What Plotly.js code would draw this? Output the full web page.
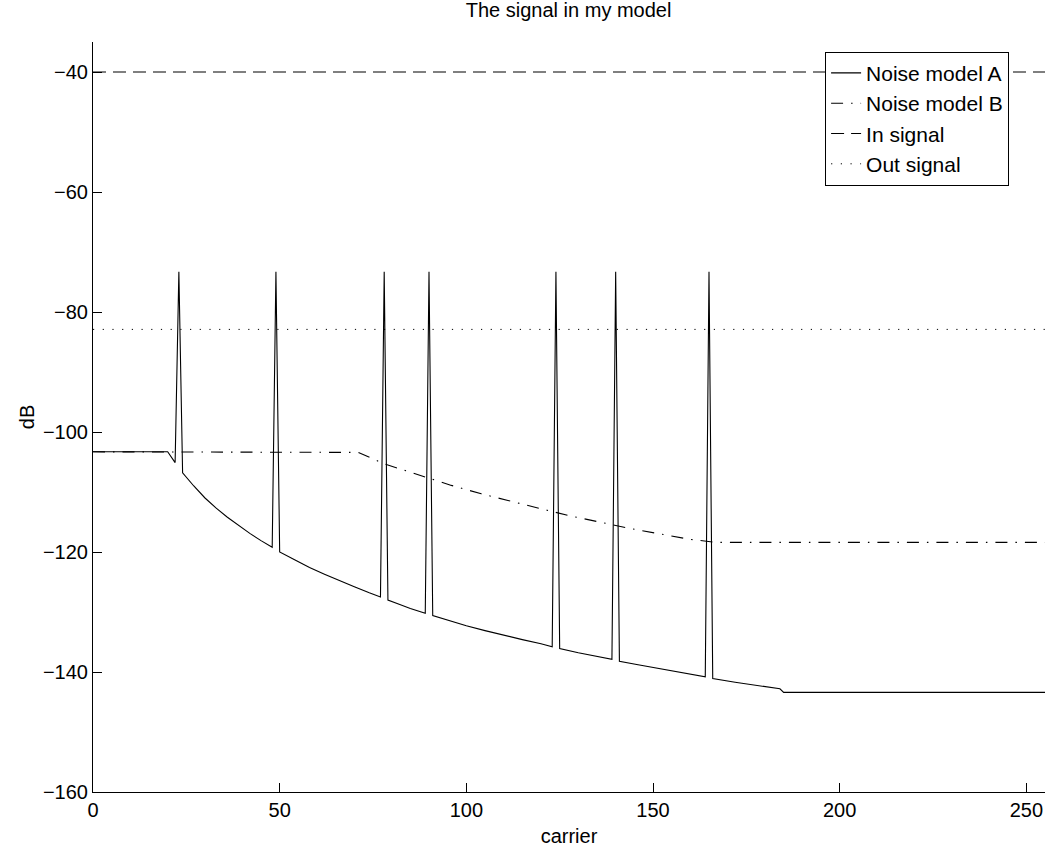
<!DOCTYPE html>
<html>
<head>
<meta charset="utf-8">
<script src="https://cdn.plot.ly/plotly-3.0.1.min.js"></script>
<style>html,body{margin:0;padding:0;background:#fff;}#chart{width:1046px;height:848px;}</style>
</head>
<body>
<div id="chart"></div>
<script>
// Noise model A (solid) – carrier index and dB values
var carrierA = [0, 20, 22, 23, 24, 27, 30, 33, 36, 39, 42, 45, 48, 49, 50, 54, 58, 62, 66, 70, 74, 77, 78, 79, 82, 85, 89, 90, 91, 95, 100, 105, 110, 115, 120, 123, 124, 125, 130, 135, 139, 140, 141, 146, 152, 158, 164, 165, 166, 172, 178, 184, 185, 255];
var noiseA = [-103.3, -103.3, -105.1, -73.3, -106.8, -109.0, -111.0, -112.7, -114.2, -115.6, -116.9, -118.1, -119.2, -73.3, -120.0, -121.3, -122.6, -123.7, -124.8, -125.8, -126.8, -127.5, -73.3, -128.0, -128.7, -129.4, -130.2, -73.3, -130.6, -131.4, -132.3, -133.1, -133.9, -134.6, -135.3, -135.8, -73.3, -136.1, -136.8, -137.4, -137.9, -73.3, -138.2, -138.8, -139.5, -140.2, -140.8, -73.3, -141.1, -141.7, -142.2, -142.8, -143.4, -143.4];

// Noise model B (dash-dot)
var carrierB = [0, 71, 78, 88, 96, 104, 112, 120, 128, 136, 144, 152, 160, 167, 255];
var noiseB = [-103.3, -103.4, -105.3, -107.3, -108.9, -110.3, -111.6, -112.8, -114.0, -115.1, -116.1, -117.0, -117.9, -118.4, -118.4];

// Constant levels
var carrierConst = [0, 255];
var inSignal = [-40, -40];
var outSignal = [-82.9, -82.9];

var names = ["Noise model A", "Noise model B", "In signal", "Out signal"];
var xTicks = [0, 50, 100, 150, 200, 250];
var yTicks = [-160, -140, -120, -100, -80, -60, -40];

var FONT = "Liberation Sans, Arial, Helvetica, sans-serif";

var traces = [
  {x: carrierA, y: noiseA, name: names[0], mode: "lines", line: {color: "#000", width: 1.1}},
  {x: carrierB, y: noiseB, name: names[1], mode: "lines", line: {color: "#000", width: 1.1, dash: "12px,8px,1.5px,8px"}},
  {x: carrierConst, y: inSignal, name: names[2], mode: "lines", line: {color: "#000", width: 1.1, dash: "13px,7px"}},
  {x: carrierConst, y: outSignal, name: names[3], mode: "lines", line: {color: "#000", width: 1, dash: "1.2px,8.5px"}}
];

var axisCommon = {
  showline: true, linecolor: "#000", linewidth: 1, mirror: false,
  ticks: "inside", ticklen: 9, tickcolor: "#000", tickwidth: 1,
  showgrid: false, zeroline: false,
  tickfont: {family: FONT, size: 20, color: "#000"}
};

var layout = {
  width: 1046, height: 848,
  margin: {l: 93, r: 1, t: 42, b: 56, pad: 0},
  paper_bgcolor: "#fff", plot_bgcolor: "#fff",
  font: {family: FONT, size: 20, color: "#000"},
  title: {text: "The signal in my model", font: {family: FONT, size: 20, color: "#000"}, x: 0.5436, xanchor: "center", y: 0.997, yanchor: "top"},
  xaxis: Object.assign({}, axisCommon, {
    range: [0, 255], tickvals: xTicks, ticktext: xTicks.map(String),
    title: {text: "carrier", font: {family: FONT, size: 20, color: "#000"}, standoff: 8}
  }),
  yaxis: Object.assign({}, axisCommon, {
    range: [-160, -35], tickvals: yTicks,
    title: {text: "dB", font: {family: FONT, size: 20, color: "#000"}, standoff: 2}
  }),
  showlegend: true,
  legend: {
    x: 0.769, y: 0.987, xanchor: "left", yanchor: "top",
    bgcolor: "#fff", bordercolor: "#000", borderwidth: 1,
    font: {family: FONT, size: 21, color: "#000"},
    itemwidth: 30,
    tracegroupgap: 0
  }
};

Plotly.newPlot("chart", traces, layout, {displayModeBar: false, staticPlot: true});
</script>
</body>
</html>
